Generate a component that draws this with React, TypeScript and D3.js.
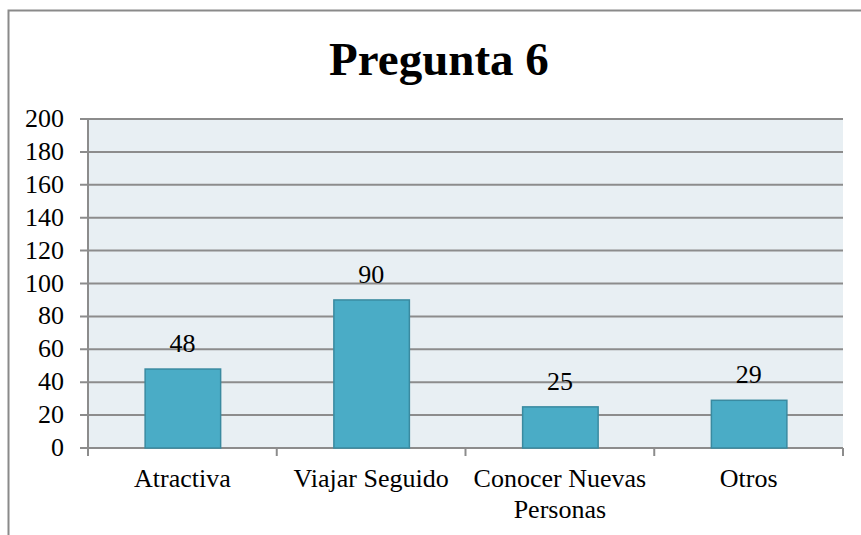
import React, { useEffect, useRef } from 'react';
import * as d3 from 'd3';

const categories = ['Atractiva', 'Viajar Seguido', 'Conocer Nuevas Personas', 'Otros'];
const labelLines = [['Atractiva'], ['Viajar Seguido'], ['Conocer Nuevas', 'Personas'], ['Otros']];
const values = [48, 90, 25, 29];
const yTicks = [0, 20, 40, 60, 80, 100, 120, 140, 160, 180, 200];

const W = 861;
const H = 535;
const font = '"Liberation Serif", "Times New Roman", serif';

export default function App() {
  const svgRef = useRef<SVGSVGElement | null>(null);

  useEffect(() => {
    const svg = d3.select(svgRef.current);
    svg.selectAll('*').remove();

    const left = 88, right = 843, top = 119, bottom = 448;

    // outer frame (only left and top visible)
    svg.append('path')
      .attr('d', `M8.5,${H} L8.5,10.5 L${W},10.5`)
      .attr('fill', 'none')
      .attr('stroke', '#8a8a8a')
      .attr('stroke-width', 2);

    svg.append('text')
      .attr('x', 439)
      .attr('y', 75)
      .attr('text-anchor', 'middle')
      .attr('font-family', font)
      .attr('font-weight', 'bold')
      .attr('font-size', 47)
      .text('Pregunta 6');

    const x = d3.scaleBand().domain(categories).range([left, right]).paddingInner(0.6).paddingOuter(0.3);
    const xb = d3.scaleBand().domain(categories).range([left, right]);
    const y = d3.scaleLinear().domain([0, 200]).range([bottom, top]);

    svg.append('rect')
      .attr('x', left).attr('y', top)
      .attr('width', right - left).attr('height', bottom - top)
      .attr('fill', '#e8eff3');

    svg.append('g')
      .selectAll('line')
      .data(yTicks)
      .join('line')
      .attr('x1', left - 8).attr('x2', right)
      .attr('y1', d => y(d)).attr('y2', d => y(d))
      .attr('stroke', '#8c8c8c')
      .attr('stroke-width', 2);

    svg.append('line')
      .attr('x1', left).attr('x2', left)
      .attr('y1', top).attr('y2', bottom + 8)
      .attr('stroke', '#8c8c8c').attr('stroke-width', 2);

    svg.append('g')
      .selectAll('line')
      .data(categories)
      .join('line')
      .attr('x1', d => (xb(d) as number) + xb.bandwidth())
      .attr('x2', d => (xb(d) as number) + xb.bandwidth())
      .attr('y1', bottom).attr('y2', bottom + 8)
      .attr('stroke', '#8c8c8c').attr('stroke-width', 2);

    svg.append('g')
      .selectAll('text')
      .data(yTicks)
      .join('text')
      .attr('x', 64)
      .attr('y', d => y(d) + 8)
      .attr('text-anchor', 'end')
      .attr('font-family', font)
      .attr('font-size', 26)
      .text(d => d);

    svg.append('g')
      .selectAll('rect')
      .data(values)
      .join('rect')
      .attr('x', (d, i) => (x(categories[i]) as number) + 0.5)
      .attr('y', d => y(d))
      .attr('width', x.bandwidth())
      .attr('height', d => bottom - y(d))
      .attr('fill', '#4aacc6')
      .attr('stroke', '#3a8aa0')
      .attr('stroke-width', 1.5);

    svg.append('g')
      .selectAll('text')
      .data(values)
      .join('text')
      .attr('x', (d, i) => (x(categories[i]) as number) + x.bandwidth() / 2)
      .attr('y', d => y(d) - 17)
      .attr('text-anchor', 'middle')
      .attr('font-family', font)
      .attr('font-size', 26)
      .text(d => d);

    const xl = svg.append('g')
      .selectAll('text')
      .data(labelLines)
      .join('text')
      .attr('text-anchor', 'middle')
      .attr('font-family', font)
      .attr('font-size', 26);
    xl.selectAll('tspan')
      .data((d, i) => d.map(t => ({ t, cx: (x(categories[i]) as number) + x.bandwidth() / 2 })))
      .join('tspan')
      .attr('x', d => d.cx)
      .attr('y', (d, j) => 487 + j * 31)
      .text(d => d.t);
  }, []);

  return <svg ref={svgRef} width={W} height={H} style={{ display: 'block', position: 'absolute', left: 0, top: 0 }} />;
}
